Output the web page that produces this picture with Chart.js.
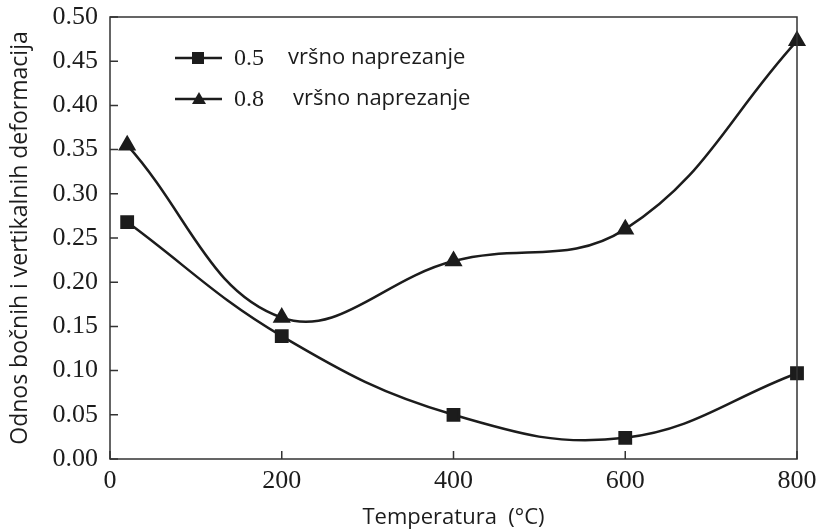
<!DOCTYPE html>
<html>
<head>
<meta charset="utf-8">
<script src="https://cdn.jsdelivr.net/npm/chart.js@4/dist/chart.umd.min.js"></script>
<style>
  html, body { margin: 0; padding: 0; background: #fff; }
  #wrap { width: 818px; height: 532px; }
</style>
</head>
<body>
<div id="wrap"><canvas id="chart" width="818" height="532"></canvas></div>
<script>
const temperatures = [20, 200, 400, 600, 800];
const peak05 = [0.268, 0.139, 0.050, 0.024, 0.097];
const peak08 = [0.355, 0.160, 0.224, 0.260, 0.473];
const xTicks = [0, 200, 400, 600, 800];
const yTicks = [0, 0.05, 0.10, 0.15, 0.20, 0.25, 0.30, 0.35, 0.40, 0.45, 0.50];

const ink = '#1c1c1c';
const serif = '"Liberation Serif", "Times New Roman", serif';
const sans = '"Open Sans", "Noto Sans", sans-serif';

// box round the plot, inward ticks and the legend
const framePlugin = {
  id: 'frame',
  afterDatasetsDraw(chart) {
    const ctx = chart.ctx;
    const a = chart.chartArea;
    const xs = chart.scales.x, ys = chart.scales.y;
    ctx.save();
    ctx.strokeStyle = '#333';
    ctx.lineWidth = 1.5;
    ctx.strokeRect(a.left, a.top, a.right - a.left, a.bottom - a.top);
    ctx.beginPath();
    yTicks.forEach(v => {
      const y = ys.getPixelForValue(v);
      ctx.moveTo(a.left, y); ctx.lineTo(a.left + 8, y);
    });
    xTicks.forEach(v => {
      const x = xs.getPixelForValue(v);
      ctx.moveTo(x, a.bottom); ctx.lineTo(x, a.bottom - 8);
    });
    ctx.stroke();

    // legend
    const items = [
      { label: '0.5', text: 'vršno naprezanje', style: 'rect', y: 58, tx: 288 },
      { label: '0.8', text: 'vršno naprezanje', style: 'triangle', y: 99, tx: 293 }
    ];
    items.forEach(it => {
      ctx.strokeStyle = ink;
      ctx.fillStyle = ink;
      ctx.lineWidth = 2.5;
      ctx.beginPath();
      ctx.moveTo(175, it.y); ctx.lineTo(222, it.y);
      ctx.stroke();
      if (it.style === 'rect') {
        ctx.fillRect(192, it.y - 6, 12, 12);
      } else {
        ctx.beginPath();
        ctx.moveTo(199, it.y - 7);
        ctx.lineTo(206, it.y + 5);
        ctx.lineTo(192, it.y + 5);
        ctx.closePath();
        ctx.fill();
      }
      ctx.textBaseline = 'middle';
      ctx.textAlign = 'left';
      ctx.font = '24px ' + serif;
      ctx.fillText(it.label, 234, it.y + 1);
      ctx.font = '22px ' + sans;
      ctx.fillText(it.text, it.tx, it.y);
    });
    ctx.restore();
  }
};

const toPoints = vals => temperatures.map((t, i) => ({ x: t, y: vals[i] }));

new Chart(document.getElementById('chart'), {
  type: 'line',
  data: {
    datasets: [
      {
        label: '0.5 vršno naprezanje',
        data: toPoints(peak05),
        borderColor: ink,
        backgroundColor: ink,
        borderWidth: 2.5,
        pointStyle: 'rect',
        pointRadius: 8,
        tension: 0.4,
        clip: false
      },
      {
        label: '0.8 vršno naprezanje',
        data: toPoints(peak08),
        borderColor: ink,
        backgroundColor: ink,
        borderWidth: 2.5,
        pointStyle: 'triangle',
        pointRadius: 8,
        tension: 0.4,
        clip: false
      }
    ]
  },
  options: {
    responsive: false,
    animation: false,
    layout: { padding: { top: 17, right: 21, left: 0, bottom: 0 } },
    plugins: {
      legend: { display: false },
      tooltip: { enabled: false }
    },
    scales: {
      x: {
        type: 'linear',
        min: 0,
        max: 800,
        afterBuildTicks: s => { s.ticks = xTicks.map(v => ({ value: v })); },
        afterFit: s => { s.height = 73; s.paddingLeft = 0; s.paddingRight = 0; },
        grid: { display: false, drawTicks: false },
        border: { display: false },
        ticks: {
          color: ink,
          padding: 7,
          maxRotation: 0,
          font: { family: serif, size: 26 }
        },
        title: {
          display: true,
          text: 'Temperatura  (°C)',
          color: ink,
          font: { family: sans, size: 22 },
          padding: { top: 4, bottom: 1 }
        }
      },
      y: {
        min: 0,
        max: 0.5,
        afterBuildTicks: s => { s.ticks = yTicks.map(v => ({ value: v })); },
        afterFit: s => { s.width = 110; s.paddingTop = 0; s.paddingBottom = 0; },
        grid: { display: false, drawTicks: false },
        border: { display: false },
        ticks: {
          color: ink,
          padding: 12,
          font: { family: serif, size: 26 },
          callback: v => v.toFixed(2)
        },
        title: {
          display: true,
          text: 'Odnos bočnih i vertikalnih deformacija',
          color: ink,
          font: { family: sans, size: 23 },
          padding: { top: 7, bottom: 0 }
        }
      }
    }
  },
  plugins: [framePlugin]
});
</script>
</body>
</html>
